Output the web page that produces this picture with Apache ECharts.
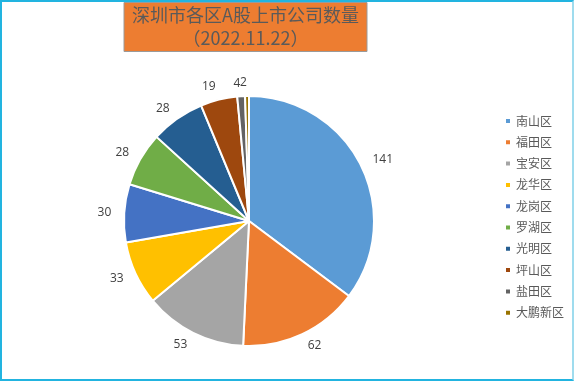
<!DOCTYPE html>
<html><head><meta charset="utf-8">
<script src="https://cdn.jsdelivr.net/npm/echarts@6/dist/echarts.min.js"></script>
<style>
html,body{margin:0;padding:0;background:#fff;}
#wrap{position:absolute;left:0;top:0;width:570px;height:377px;border:2px solid #22b4e0;border-right-color:#9fdcee;}
#c{width:570px;height:377px;}
</style></head>
<body><div id="wrap"><div id="c"></div></div>
<script>
const districts = ['南山区','福田区','宝安区','龙华区','龙岗区','罗湖区','光明区','坪山区','盐田区','大鹏新区'];
const counts = [141, 62, 53, 33, 30, 28, 28, 19, 4, 2];
const colors = ['#5B9BD5','#ED7D31','#A5A5A5','#FFC000','#4472C4','#70AD47','#255E91','#9E480E','#636363','#997300'];
const titleText = '深圳市各区A股上市公司数量\n（2022.11.22）';

const chart = echarts.init(document.getElementById('c'));
chart.setOption({
  animation:false,
  color: colors,
  title:{
    text: titleText,
    left: 235.5, top: 0,
    textAlign:'center',
    backgroundColor:'#ED7D31',
    borderColor:'#9a9a9a', borderWidth:1,
    padding:[2,8,2,8],
    textStyle:{fontFamily:'"Noto Sans CJK SC"', fontSize:18, fontWeight:'normal', color:'#5a5a5a', lineHeight:23}
  },
  legend:{
    orient:'vertical', left:502, top:113, padding:0,
    itemWidth:6, itemHeight:6, itemGap:9.3,
    icon:'rect',
    textStyle:{fontFamily:'"Noto Sans CJK SC"', fontSize:12, color:'#595959'}
  },
  series:[{
    type:'pie',
    center:[247,219], radius:125,
    startAngle:90, clockwise:true,
    avoidLabelOverlap:false,
    itemStyle:{borderColor:'#fff', borderWidth:2},
    label:{show:true, position:'outside', color:'#404040', fontSize:12, fontFamily:'"Open Sans"', formatter:'{c}', distanceToLabelLine:0},
    labelLine:{show:false, length:13, length2:0},
    labelLayout:{hideOverlap:false, moveOverlap:null},
    emphasis:{disabled:true},
    data: districts.map((d,i)=>({name:d, value:counts[i]}))
  }]
});
</script></body></html>
